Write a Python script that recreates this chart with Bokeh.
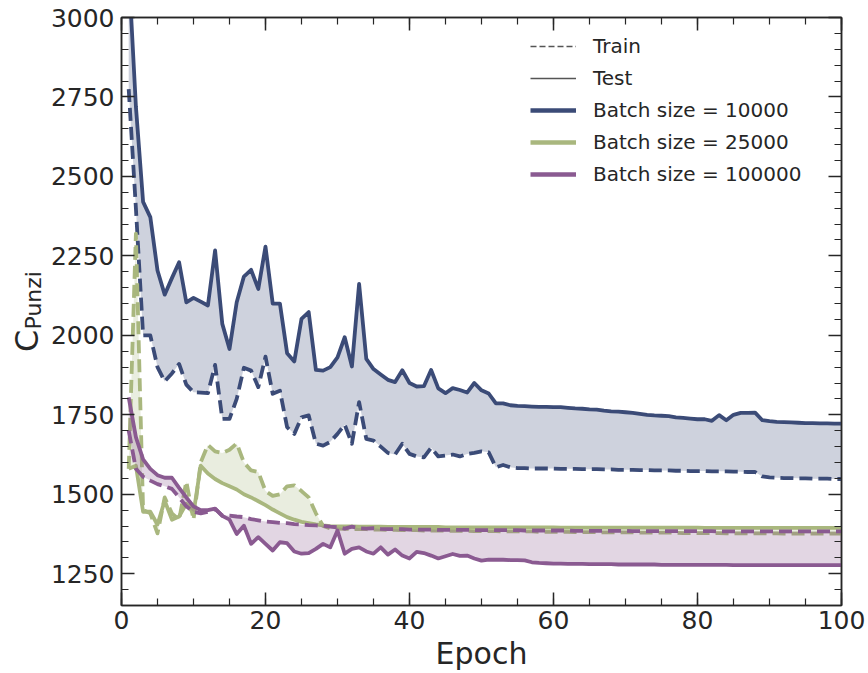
from bokeh.plotting import figure
from bokeh.layouts import row, column
from bokeh.models import (ColumnDataSource, Legend, LegendItem, LinearAxis, Title,
                          SingleIntervalTicker, CustomJSTickFormatter, Range1d)
from bokeh.embed import file_html
from bokeh.resources import INLINE

# ---------------------------------------------------------------- data
epochs = list(range(1, 101))

blue_test = [
    3150, 2720, 2420, 2372, 2204, 2128, 2180, 2230, 2104, 2118,
    2106, 2094, 2267, 2036, 1957, 2104, 2185, 2206, 2146, 2279,
    2100, 2100, 1944, 1918, 2052, 2073, 1891, 1889, 1900, 1931,
    1994, 1902, 2162, 1926, 1894, 1877, 1860, 1853, 1890, 1850,
    1839, 1840, 1891, 1833, 1818, 1834, 1828, 1820, 1850, 1827,
    1817, 1786, 1786, 1780, 1778, 1777, 1776, 1775, 1775, 1774,
    1774, 1772, 1770, 1769, 1767, 1766, 1763, 1761, 1760, 1758,
    1756, 1753, 1750, 1748, 1747, 1746, 1742, 1740, 1738, 1736,
    1736, 1731, 1749, 1733, 1750, 1756, 1756, 1757, 1733, 1730,
    1728, 1727, 1726, 1725, 1724, 1724, 1723, 1723, 1722, 1722,
]
blue_train = [
    2775, 2400, 2000, 2000, 1900, 1855, 1880, 1910, 1845, 1821,
    1820, 1818, 1907, 1737, 1737, 1800, 1898, 1889, 1837, 1933,
    1816, 1826, 1711, 1690, 1742, 1748, 1659, 1653, 1665, 1690,
    1719, 1659, 1790, 1674, 1669, 1650, 1630, 1625, 1659, 1627,
    1619, 1616, 1646, 1619, 1622, 1625, 1619, 1627, 1630, 1635,
    1632, 1585, 1592, 1585, 1582, 1582, 1581, 1581, 1581, 1581,
    1580, 1580, 1580, 1579, 1579, 1579, 1578, 1578, 1577, 1577,
    1577, 1576, 1576, 1575, 1575, 1575, 1574, 1574, 1573, 1573,
    1573, 1572, 1572, 1572, 1571, 1571, 1570, 1570, 1556, 1553,
    1552, 1551, 1551, 1550, 1550, 1549, 1549, 1549, 1548, 1548,
]
green_test = [
    1580, 1590, 1445, 1445, 1405, 1480, 1420, 1430, 1470, 1440,
    1590, 1565, 1548, 1535, 1525, 1515, 1500, 1490, 1478, 1466,
    1452, 1440, 1428, 1420, 1413, 1409, 1405, 1402, 1400, 1399,
    1399, 1399, 1398, 1398, 1398, 1398, 1397, 1397, 1397, 1397,
    1397, 1397, 1397, 1397, 1396, 1396, 1396, 1396, 1396, 1396,
    1396, 1396, 1396, 1396, 1396, 1396, 1396, 1396, 1396, 1396,
    1395, 1395, 1395, 1395, 1395, 1395, 1395, 1395, 1395, 1395,
    1395, 1395, 1395, 1395, 1395, 1395, 1395, 1395, 1395, 1395,
    1394, 1394, 1394, 1394, 1394, 1394, 1394, 1394, 1394, 1394,
    1394, 1394, 1394, 1394, 1394, 1394, 1394, 1394, 1394, 1394,
]
green_train = [
    1580, 2320, 1450, 1440, 1377, 1490, 1440, 1420, 1540, 1420,
    1600, 1655, 1635, 1630, 1640, 1660, 1600, 1575, 1570, 1510,
    1495, 1500, 1525, 1528, 1510, 1490, 1440, 1400, 1393, 1392,
    1391, 1391, 1390, 1390, 1389, 1389, 1388, 1388, 1387, 1387,
    1387, 1386, 1386, 1386, 1385, 1385, 1385, 1385, 1384, 1384,
    1384, 1384, 1383, 1383, 1383, 1383, 1383, 1382, 1382, 1382,
    1382, 1382, 1381, 1381, 1381, 1381, 1380, 1380, 1380, 1380,
    1380, 1379, 1379, 1379, 1379, 1379, 1379, 1378, 1378, 1378,
    1378, 1378, 1378, 1377, 1377, 1377, 1377, 1377, 1377, 1377,
    1377, 1376, 1376, 1376, 1376, 1376, 1376, 1376, 1376, 1376,
]
purple_test = [
    1805, 1680, 1610, 1580, 1560, 1552, 1552, 1520, 1490, 1462,
    1450, 1450, 1455, 1432, 1420, 1375, 1401, 1344, 1365, 1344,
    1323, 1349, 1346, 1320, 1313, 1315, 1328, 1344, 1333, 1386,
    1313, 1328, 1333, 1320, 1313, 1333, 1310, 1326, 1307, 1298,
    1319, 1315, 1307, 1298, 1305, 1312, 1306, 1307, 1298, 1291,
    1294, 1294, 1294, 1293, 1293, 1292, 1286, 1284, 1283, 1282,
    1282, 1281, 1281, 1281, 1280, 1280, 1280, 1280, 1279, 1279,
    1279, 1279, 1279, 1279, 1278, 1278, 1278, 1278, 1278, 1278,
    1278, 1278, 1278, 1278, 1277, 1277, 1277, 1277, 1277, 1277,
    1277, 1277, 1277, 1277, 1277, 1277, 1277, 1277, 1277, 1277,
]
purple_train = [
    1700, 1580, 1555, 1543, 1532, 1525, 1517, 1490, 1462, 1445,
    1440, 1445, 1454, 1433, 1433, 1430, 1428, 1422, 1418, 1414,
    1412, 1410, 1409, 1406, 1405, 1403, 1402, 1401, 1398, 1396,
    1392, 1398, 1393, 1392, 1393, 1391, 1390, 1390, 1390, 1389,
    1389, 1389, 1389, 1388, 1388, 1388, 1388, 1388, 1387, 1387,
    1387, 1387, 1387, 1387, 1387, 1386, 1386, 1386, 1386, 1386,
    1386, 1386, 1385, 1385, 1385, 1385, 1385, 1385, 1385, 1385,
    1384, 1384, 1384, 1384, 1384, 1384, 1384, 1384, 1384, 1384,
    1384, 1384, 1383, 1383, 1383, 1383, 1383, 1383, 1383, 1383,
    1383, 1383, 1383, 1383, 1383, 1383, 1383, 1383, 1383, 1383,
]

batch_labels = ["Batch size = 10000", "Batch size = 25000", "Batch size = 100000"]
batch_colors = ["#3b4b77", "#a9b77e", "#8a5a91"]

# ---------------------------------------------------------------- style
FONT = "DejaVu Sans"
INK = "#262626"
TOTAL_H = 673
TITLE_W = 46          # narrow strip holding the rotated y-axis title

p = figure(width=868 - TITLE_W, height=TOTAL_H,
           x_range=Range1d(0, 100), y_range=Range1d(1150, 3000),
           output_backend="svg", toolbar_location=None,
           min_border_left=121 - TITLE_W, min_border_right=27,
           min_border_top=17, min_border_bottom=68)
p.xgrid.visible = False
p.ygrid.visible = False
p.outline_line_color = INK
p.outline_line_width = 1.5
p.background_fill_color = "white"
p.border_fill_color = "white"

x_ticker = SingleIntervalTicker(interval=20, num_minor_ticks=4)
y_ticker = SingleIntervalTicker(interval=250, num_minor_ticks=5)


def style_axis(ax):
    ax.axis_line_color = INK
    ax.axis_line_width = 1.5
    ax.major_tick_in = 13
    ax.major_tick_out = 0
    ax.minor_tick_in = 7
    ax.minor_tick_out = 0
    ax.major_tick_line_color = INK
    ax.major_tick_line_width = 1.5
    ax.minor_tick_line_color = INK
    ax.minor_tick_line_width = 1.2
    ax.major_label_text_font = FONT
    ax.major_label_text_font_size = "25px"
    ax.major_label_text_color = INK


xaxis = p.below[0]
yaxis = p.left[0]
xaxis.ticker = x_ticker
yaxis.ticker = y_ticker
style_axis(xaxis)
style_axis(yaxis)
xaxis.major_label_standoff = 5
yaxis.major_label_standoff = 7
xaxis.axis_label = "Epoch"
xaxis.axis_label_text_font = FONT
xaxis.axis_label_text_font_size = "30px"
xaxis.axis_label_text_font_style = "normal"
xaxis.axis_label_text_color = INK
xaxis.axis_label_standoff = 4

blank = CustomJSTickFormatter(code="return ''")
top_axis = LinearAxis(ticker=x_ticker, formatter=blank, major_label_standoff=0)
right_axis = LinearAxis(ticker=y_ticker, formatter=blank, major_label_standoff=0)
style_axis(top_axis)
style_axis(right_axis)
p.add_layout(top_axis, "above")
p.add_layout(right_axis, "right")

# ---------------------------------------------------------------- curves
series = [
    (blue_train, blue_test),
    (green_train, green_test),
    (purple_train, purple_test),
]
for (train, test), color in zip(series, batch_colors):
    src = ColumnDataSource(dict(x=epochs, train=train, test=test))
    p.varea(x="x", y1="train", y2="test", source=src,
            fill_color=color, fill_alpha=0.25)
    p.line("x", "train", source=src, line_color=color, line_width=3.8,
           line_dash="13 6", line_join="round")
    p.line("x", "test", source=src, line_color=color, line_width=3.8,
           line_join="round")

# legend keys for the line styles (drawn outside the visible range)
off_x = [-50, -40]
off_y = [0, 0]
train_key = p.line(x=off_x, y=off_y, line_color="#555555", line_width=1.6, line_dash="6 3")
test_key = p.line(x=off_x, y=off_y, line_color="#555555", line_width=1.6)
batch_keys = [p.line(x=off_x, y=off_y, line_color=c, line_width=4.5) for c in batch_colors]

items = [LegendItem(label="Train", renderers=[train_key]),
         LegendItem(label="Test", renderers=[test_key])]
items += [LegendItem(label=lab, renderers=[k]) for lab, k in zip(batch_labels, batch_keys)]

legend = Legend(items=items, location=(409, 419),
                border_line_color=None, background_fill_alpha=0,
                label_text_font=FONT, label_text_font_size="20px",
                label_text_color=INK,
                glyph_width=46, glyph_height=24, label_height=24,
                label_standoff=17, spacing=8, padding=0, margin=0)
p.add_layout(legend)

# ---------------------------------------------------------------- y title
# "C" with subscript "Punzi", read bottom-to-top, centred on the plot frame.
main_size, sub_size = 32, 22
frame_mid = (17 + 605) / 2
c_adv = 0.698 * main_size
sub_len = 2.674 * sub_size
c_start = frame_mid + (c_adv + sub_len) / 2      # page y where "C" begins
split_y = round(c_start - c_adv)                 # page y where "Punzi" begins


def title_cell(height, text, size, offset, edge):
    cell = figure(width=TITLE_W, height=height,
                  x_range=Range1d(0, 1), y_range=Range1d(0, 1),
                  output_backend="svg", toolbar_location=None,
                  x_axis_location=None, y_axis_location=None,
                  min_border=0, min_border_left=edge)
    cell.grid.visible = False
    cell.outline_line_color = None
    cell.background_fill_color = "white"
    cell.border_fill_color = "white"
    cell.add_layout(Title(text=text, align="left", offset=offset, standoff=0,
                          text_font=FONT, text_font_size=f"{size}px",
                          text_font_style="normal", text_color=INK,
                          vertical_align="bottom"), "left")
    return cell


sub_cell = title_cell(split_y, "Punzi", sub_size, 0, 45)
main_cell = title_cell(TOTAL_H - split_y, "C", main_size,
                       (TOTAL_H - c_start), 42)

layout = row(column(sub_cell, main_cell, spacing=0), p, spacing=0)
open("out.html", "w").write(file_html(layout, INLINE))
